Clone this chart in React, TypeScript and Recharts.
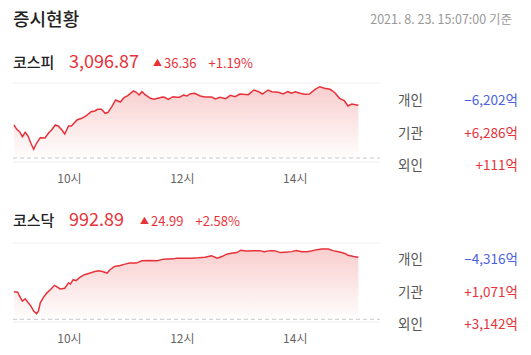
import React from 'react';
import {
  AreaChart,
  Area,
  XAxis,
  YAxis,
  ReferenceLine,
} from 'recharts';

// minutes after 09:00
const kospiTimes = [
  1, 4, 7, 10, 13, 16, 19, 22, 25, 29, 34, 38, 41, 45, 48, 52, 55, 59, 62, 68,
  73, 78, 83, 87, 90, 94, 98, 101, 105, 109, 114, 118, 122, 128, 131, 134, 137, 140, 146, 150,
  154, 159, 161, 165, 170, 174, 177, 181, 185, 188, 193, 199, 204, 211, 215, 220, 226, 231, 236, 241,
  250, 256, 261, 265, 271, 275, 282, 287, 292, 296, 300, 305, 310, 315, 321, 326, 331, 337, 342, 347,
  352, 356, 360, 367,
];
const kospiValues = [
  3083.28, 3080.31, 3078.66, 3075.21, 3078.24, 3075.69, 3070.65, 3066.51, 3070.65, 3074.52,
  3074.31, 3077.97, 3079.83, 3083.28, 3082.59, 3079.83, 3077.07, 3082.59, 3082.59, 3086.73,
  3087.9, 3089.7, 3092.46, 3092.94, 3094.11, 3094.11, 3091.35, 3092.04, 3095.91, 3100.53,
  3099.15, 3102.12, 3103.5, 3106.74, 3105.84, 3103.98, 3106.26, 3104.46, 3101.7, 3101.01,
  3101.7, 3102.6, 3102.39, 3101.01, 3102.81, 3102.39, 3102.39, 3103.98, 3103.29, 3104.67,
  3105.15, 3103.29, 3102.6, 3102.6, 3101.22, 3102.39, 3101.43, 3103.77, 3102.81, 3104.67,
  3104.19, 3107.43, 3106.26, 3104.67, 3107.43, 3106.26, 3105.84, 3104.67, 3106.26, 3105.15,
  3106.26, 3105.15, 3104.46, 3104.67, 3107.91, 3109.71, 3108.6, 3107.91, 3105.57, 3101.7,
  3100.05, 3096.39, 3097.77, 3096.87,
];

const kosdaqTimes = [
  1, 5, 7, 10, 13, 15, 19, 22, 25, 27, 29, 32, 36, 40, 44, 46, 50, 55, 59, 61,
  64, 67, 71, 76, 82, 87, 91, 95, 100, 103, 108, 114, 119, 124, 131, 137, 144, 153, 160, 170,
  174, 185, 190, 197, 204, 211, 217, 222, 227, 232, 238, 242, 248, 255, 262, 267, 273, 278, 284, 289,
  296, 301, 307, 312, 317, 323, 328, 335, 340, 347, 352, 356, 362, 367,
];
const kosdaqValues = [
  978.94, 978.78, 977.19, 975.19, 976.15, 975.19, 973.2, 971.21, 970.17, 971.21,
  974.56, 976.55, 978.54, 979.86, 981.57, 981.17, 980.14, 980.38, 982.53, 982.13,
  983.84, 983.45, 984.76, 985.84, 986.51, 987.15, 987.43, 987.15, 986.51, 987.83,
  989.15, 989.54, 990.1, 990.5, 990.5, 991.42, 991.54, 991.42, 992.1, 992.21,
  992.49, 992.49, 992.49, 992.61, 992.89, 993.41, 992.49, 993.13, 994.09, 994.49,
  994.73, 995.68, 995.4, 995.52, 995.52, 995.12, 995.52, 995.52, 994.73, 994.89,
  995.12, 995.52, 995.12, 995.12, 995.4, 995.92, 996.2, 996.2, 995.52, 995.0,
  994.49, 993.69, 993.13, 992.89,
];

const hourTicks = [60, 180, 300];
const investors = ['개인', '기관', '외인'];
const kospiFlows = ['−6,202억', '+6,286억', '+111억'];
const kosdaqFlows = ['−4,316억', '+1,071억', '+3,142억'];

const FONT = '"Noto Sans CJK KR", "Noto Sans", sans-serif';
const RED = '#e8323a';
const BLUE = '#4a62e0';

const IndexChart = ({ id, times, values, prevClose, domain }) => {
  const data = times.map((t, i) => ({ t, v: values[i] }));
  return (
    <AreaChart
      width={395}
      height={118}
      data={data}
      margin={{ top: 8, right: 15, bottom: 0, left: 13 }}
    >
      <defs>
        <linearGradient id={id} x1="0" y1="0" x2="0" y2="1">
          <stop offset="0%" stopColor="#ee8080" stopOpacity={0.65} />
          <stop offset="100%" stopColor="#ee8080" stopOpacity={0.02} />
        </linearGradient>
      </defs>
      <XAxis
        dataKey="t"
        type="number"
        domain={[0, 390]}
        ticks={hourTicks}
        tickFormatter={(t) => `${9 + t / 60}시`}
        tickLine={false}
        axisLine={{ stroke: '#eeeeee' }}
        tick={{ fill: '#666', fontSize: 12, fontFamily: FONT }}
        tickMargin={6}
        height={31}
      />
      <YAxis hide domain={domain} allowDataOverflow />
      <ReferenceLine y={domain[1]} stroke="#eeeeee" />
      <ReferenceLine y={prevClose} stroke="#c8c8c8" strokeDasharray="4 3" />
      <Area
        type="linear"
        dataKey="v"
        baseValue={prevClose}
        stroke={RED}
        strokeWidth={1.5}
        fill={`url(#${id})`}
        dot={false}
        activeDot={false}
        isAnimationActive={false}
      />
    </AreaChart>
  );
};

const Header = ({ top, name, price, change, pct, priceW }) => (
  <div style={{ position: 'absolute', top, left: 13, display: 'flex', alignItems: 'baseline', whiteSpace: 'nowrap' }}>
    <span style={{ fontSize: 15, color: '#222', fontWeight: 500, width: 56 }}>{name}</span>
    <span style={{ fontSize: 18, color: RED, width: priceW }}>{price}</span>
    <span style={{ fontSize: 13, color: RED, marginRight: 12 }}>
      <span style={{ fontSize: 9, marginRight: 2, position: 'relative', top: -2 }}>▲</span>
      {change}
    </span>
    <span style={{ fontSize: 13, color: RED }}>{pct}</span>
  </div>
);

const Flows = ({ top, flows }) => (
  <div>
    {investors.map((name, i) => (
      <div
        key={name}
        style={{ position: 'absolute', top: top + i * 32.5, left: 398, width: 120, display: 'flex', justifyContent: 'space-between', fontSize: 13.5, whiteSpace: 'nowrap' }}
      >
        <span style={{ color: '#555' }}>{name}</span>
        <span style={{ color: flows[i].startsWith('+') ? RED : BLUE }}>{flows[i]}</span>
      </div>
    ))}
  </div>
);

export default function App() {
  return (
    <div style={{ position: 'absolute', left: 0, top: 0, width: 531, height: 355, background: '#fff', fontFamily: FONT, overflow: 'hidden' }}>
      <div style={{ position: 'absolute', left: 13, top: 5, fontSize: 18, color: '#222', fontWeight: 500 }}>증시현황</div>
      <div style={{ position: 'absolute', right: 19, top: 9, fontSize: 12.5, color: '#999' }}>2021. 8. 23. 15:07:00 기준</div>

      <Header top={47} name="코스피" price="3,096.87" change="36.36" pct="+1.19%" priceW={84} />
      <div style={{ position: 'absolute', left: 0, top: 75 }}>
        <IndexChart id="kospiFill" times={kospiTimes} values={kospiValues} prevClose={3060.51} domain={[3057.75, 3112.26]} />
      </div>
      <Flows top={89} flows={kospiFlows} />

      <Header top={205} name="코스닥" price="992.89" change="24.99" pct="+2.58%" priceW={71} />
      <div style={{ position: 'absolute', left: 0, top: 235 }}>
        <IndexChart id="kosdaqFill" times={kosdaqTimes} values={kosdaqValues} prevClose={967.9} domain={[966.82, 998.59]} />
      </div>
      <Flows top={248} flows={kosdaqFlows} />
    </div>
  );
}
